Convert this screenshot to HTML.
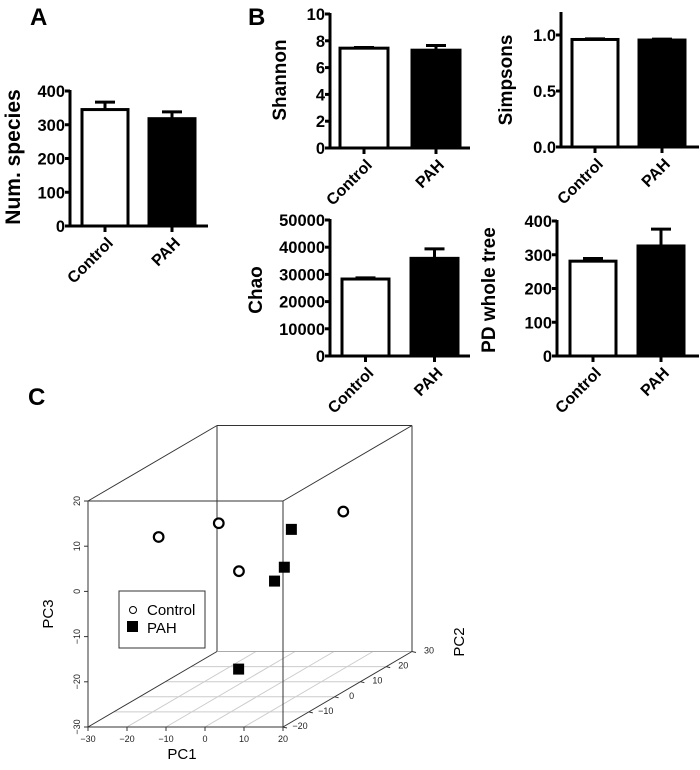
<!DOCTYPE html>
<html><head><meta charset="utf-8">
<style>
html,body{margin:0;padding:0;background:#fff;}
svg{display:block;font-family:"Liberation Sans",Arial,sans-serif;}
</style></head>
<body>
<svg id="fig" width="700" height="770" viewBox="0 0 700 770" xmlns="http://www.w3.org/2000/svg">
<text x="30" y="25" font-size="24" font-weight="bold">A</text>
<text x="248" y="25" font-size="24" font-weight="bold">B</text>
<text x="28" y="405" font-size="24" font-weight="bold">C</text>
</svg>
<script>
const groups = ["Control","PAH"];
const numSpeciesMean = [345, 318];
const numSpeciesErr = [22, 20];
const shannonMean = [7.45, 7.3];
const shannonErr = [0.05, 0.35];
const simpsonsMean = [0.96, 0.955];
const simpsonsErr = [0.005, 0.008];
const chaoMean = [28300, 35900];
const chaoErr = [400, 3500];
const pdMean = [281, 326];
const pdErr = [8, 50];
const numSpeciesTicks = [0,100,200,300,400];
const shannonTicks = [0,2,4,6,8,10];
const simpsonsTicks = ["0.0","0.5","1.0"];
const chaoTicks = [0,10000,20000,30000,40000,50000];
const pdTicks = [0,100,200,300,400];

// PCoA 3D data
const controlPC1 = [-18.5, -9.7, 5.4, 9.0];
const controlPC2 = [-10, 0, -15, 20];
const controlPC3 = [8.7, 8.4, 2.8, 4.3];
const pahPC1 = [2.3, 3.8, 4.6, -1.3];
const pahPC2 = [10, 5, 0, -5];
const pahPC3 = [3.7, -3.0, -4.4, -22.2];
const pc1Ticks = [-30,-20,-10,0,10,20];
const pc2Ticks = [-20,-10,0,10,20,30];
const pc3Ticks = [-30,-20,-10,0,10,20];

const NS="http://www.w3.org/2000/svg";
const svg=document.getElementById('fig');
function mk(tag,attrs,parent){const e=document.createElementNS(NS,tag);for(const k in attrs)e.setAttribute(k,attrs[k]);(parent||svg).appendChild(e);return e;}

function barChart(cfg){
  const g=mk('g',{});
  
  
  const y=v=>cfg.y0-(v-cfg.vmin)/(cfg.vmax-cfg.vmin)*(cfg.y0-cfg.y1);
  cfg.means.forEach((m,i)=>{
    const bx=cfg.barX[i];
    const cx=bx+cfg.barW/2;
    const el=mk('line',{x1:cx,x2:cx,y1:y(m),y2:y(m+cfg.errs[i]),stroke:'#000','stroke-width':3},g);
    
    
    const cap=mk('line',{x1:cx-10,x2:cx+10,y1:y(m+cfg.errs[i]),y2:y(m+cfg.errs[i]),stroke:'#000','stroke-width':3},g);
    
    
    const r=mk('rect',{x:bx,y:y(m),width:cfg.barW,height:cfg.y0-y(m),fill:i==0?'#fff':'#000',stroke:'#000','stroke-width':3},g);
    
    
    const tk=mk('line',{x1:cx,x2:cx,y1:cfg.y0,y2:cfg.y0+6,stroke:'#000','stroke-width':3},g);
    
    
    const t=mk('text',{x:cx+9,y:cfg.y0+18,'text-anchor':'end','font-size':16,'font-weight':'bold',transform:`rotate(-45 ${cx+9} ${cfg.y0+18})`},g);
    t.textContent=groups[i];
    
    
  });
  const ax=mk('line',{x1:cfg.ax,x2:cfg.ax,y1:cfg.axTop,y2:cfg.y0+1.5,stroke:'#000','stroke-width':3},g);
  
  
  const bl=mk('line',{x1:cfg.ax-5,x2:cfg.xEnd,y1:cfg.y0,y2:cfg.y0,stroke:'#000','stroke-width':3},g);
  
  
  cfg.ticks.forEach(tv=>{
    const v=parseFloat(tv);
    const tl=mk('line',{x1:cfg.ax-5,x2:cfg.ax,y1:y(v),y2:y(v),stroke:'#000','stroke-width':3},g);
    
    
    const t=mk('text',{x:cfg.ax-5,y:y(v)+6,'text-anchor':'end','font-size':16.5,'font-weight':'bold'},g);
    t.textContent=tv;
    
    
  });
  const tt=mk('text',{x:cfg.tx,y:cfg.ty,'text-anchor':'middle','font-size':cfg.ts||19,'font-weight':'bold',transform:`rotate(-90 ${cfg.tx} ${cfg.ty})`},g);
  tt.textContent=cfg.title;
  
  
}

barChart({name:'num-species-chart',means:numSpeciesMean,errs:numSpeciesErr,ticks:numSpeciesTicks,vmin:0,vmax:400,y0:226,y1:91,axTop:90,ax:70,xEnd:208,barX:[82,149],barW:46,title:'Num. species',tx:20,ty:157,ts:21});
barChart({name:'shannon-chart',means:shannonMean,errs:shannonErr,ticks:shannonTicks,vmin:0,vmax:10,y0:148,y1:14,axTop:13,ax:330,xEnd:470,barX:[340,412],barW:48,title:'Shannon',tx:286,ty:80});
barChart({name:'simpsons-chart',means:simpsonsMean,errs:simpsonsErr,ticks:simpsonsTicks,vmin:0,vmax:1,y0:147,y1:35,axTop:12,ax:561,xEnd:699,barX:[572,639],barW:46,title:'Simpsons',tx:512,ty:80});
barChart({name:'chao-chart',means:chaoMean,errs:chaoErr,ticks:chaoTicks,vmin:0,vmax:50000,y0:356,y1:220,axTop:219,ax:330,xEnd:470,barX:[342,411],barW:47,title:'Chao',tx:262,ty:290});
barChart({name:'pd-whole-tree-chart',means:pdMean,errs:pdErr,ticks:pdTicks,vmin:0,vmax:400,y0:356,y1:221,axTop:220,ax:557,xEnd:699,barX:[570,638],barW:46,title:'PD whole tree',tx:495,ty:290});

// 3D scatter
(function(){
  const g=mk('g',{});
  
  
  const X0=88,X1=283,Y0=727,Y1=501,DX=129,DY=75.5;
  const f=p2=>(p2+20)/50;
  const P=(a,b,c)=>[X0+(a+30)/50*(X1-X0)+f(b)*DX, Y0-(c+30)/50*(Y0-Y1)-f(b)*DY];
  const L=(x1,y1,x2,y2,col,w,name)=>{const e=mk('line',{x1,y1,x2,y2,stroke:col,'stroke-width':w},g);return e;};
  pc1Ticks.slice(1,-1).forEach(t=>{const a=P(t,-20,-30),b=P(t,30,-30);L(a[0],a[1],b[0],b[1],'#ccc',1,'floor-grid-pc1');});
  pc2Ticks.slice(1,-1).forEach(t=>{const a=P(-30,t,-30),b=P(20,t,-30);L(a[0],a[1],b[0],b[1],'#ccc',1,'floor-grid-pc2');});
  const c='#333';
  L(X0+DX,Y1-DY,X1+DX,Y1-DY,c,1,'box-edge');
  L(X0+DX,Y1-DY,X0+DX,Y0-DY,c,1,'box-edge');
  L(X0+DX,Y0-DY,X1+DX,Y0-DY,'#aaa',1,'box-edge');
  L(X1+DX,Y1-DY,X1+DX,Y0-DY,c,1,'box-edge');
  L(X0,Y1,X0+DX,Y1-DY,c,1,'box-edge');
  L(X1,Y1,X1+DX,Y1-DY,c,1,'box-edge');
  L(X0,Y0,X0+DX,Y0-DY,c,1,'box-edge');
  L(X1,Y0,X1+DX,Y0-DY,c,1,'pc2-axis');
  mk('rect',{x:X0,y:Y1,width:X1-X0,height:Y0-Y1,fill:'none',stroke:c,'stroke-width':1},g);
  pc1Ticks.forEach(t=>{const p=P(t,-20,-30);L(p[0],p[1],p[0],p[1]+4,c,1,'pc1-tick');
    const e=mk('text',{x:p[0],y:p[1]+15,'text-anchor':'middle','font-size':9,fill:'#222'},g);e.textContent=String(t).replace('-','\u2212');
    });
  pc3Ticks.forEach(t=>{const p=P(-30,-20,t);L(p[0]-4,p[1],p[0],p[1],c,1,'pc3-tick');
    const e=mk('text',{x:p[0]-8,y:p[1],'text-anchor':'middle','font-size':9,fill:'#222',transform:`rotate(-90 ${p[0]-8} ${p[1]})`},g);e.textContent=String(t).replace('-','\u2212');
    });
  pc2Ticks.forEach(t=>{const p=P(20,t,-30);L(p[0],p[1],p[0]+4,p[1]+1,c,1,'pc2-tick');
    const e=mk('text',{x:p[0]+17,y:p[1]+2,'text-anchor':'middle','font-size':9,fill:'#222'},g);e.textContent=String(t).replace('-','\u2212');
    });
  const t1=mk('text',{x:182,y:759,'text-anchor':'middle','font-size':15},g);t1.textContent='PC1';
  
  const t3=mk('text',{x:53,y:614,'text-anchor':'middle','font-size':15,transform:'rotate(-90 53 614)'},g);t3.textContent='PC3';
  
  const t2=mk('text',{x:464,y:642,'text-anchor':'middle','font-size':15,transform:'rotate(-90 464 642)'},g);t2.textContent='PC2';
  
  controlPC1.forEach((v,i)=>{const p=P(v,controlPC2[i],controlPC3[i]);
    const e=mk('circle',{cx:p[0],cy:p[1],r:4.8,fill:'#fff',stroke:'#000','stroke-width':2.2},g);
    });
  pahPC1.forEach((v,i)=>{const p=P(v,pahPC2[i],pahPC3[i]);
    const e=mk('rect',{x:p[0]-5.5,y:p[1]-5.5,width:11,height:11,fill:'#000'},g);
    });
  const lg=mk('g',{},g);
  
  
  mk('rect',{x:119,y:591,width:86,height:57,fill:'#fff',stroke:'#333','stroke-width':1},lg);
  const lc=mk('circle',{cx:133,cy:610,r:3.5,fill:'#fff',stroke:'#000','stroke-width':1},lg);
  
  const ls=mk('rect',{x:127,y:621,width:11,height:11,fill:'#000'},lg);
  
  const a=mk('text',{x:147,y:615,'font-size':15},lg);a.textContent='Control';
  
  const b=mk('text',{x:147,y:633,'font-size':15},lg);b.textContent='PAH';
  
})();
</script>
</body></html>
